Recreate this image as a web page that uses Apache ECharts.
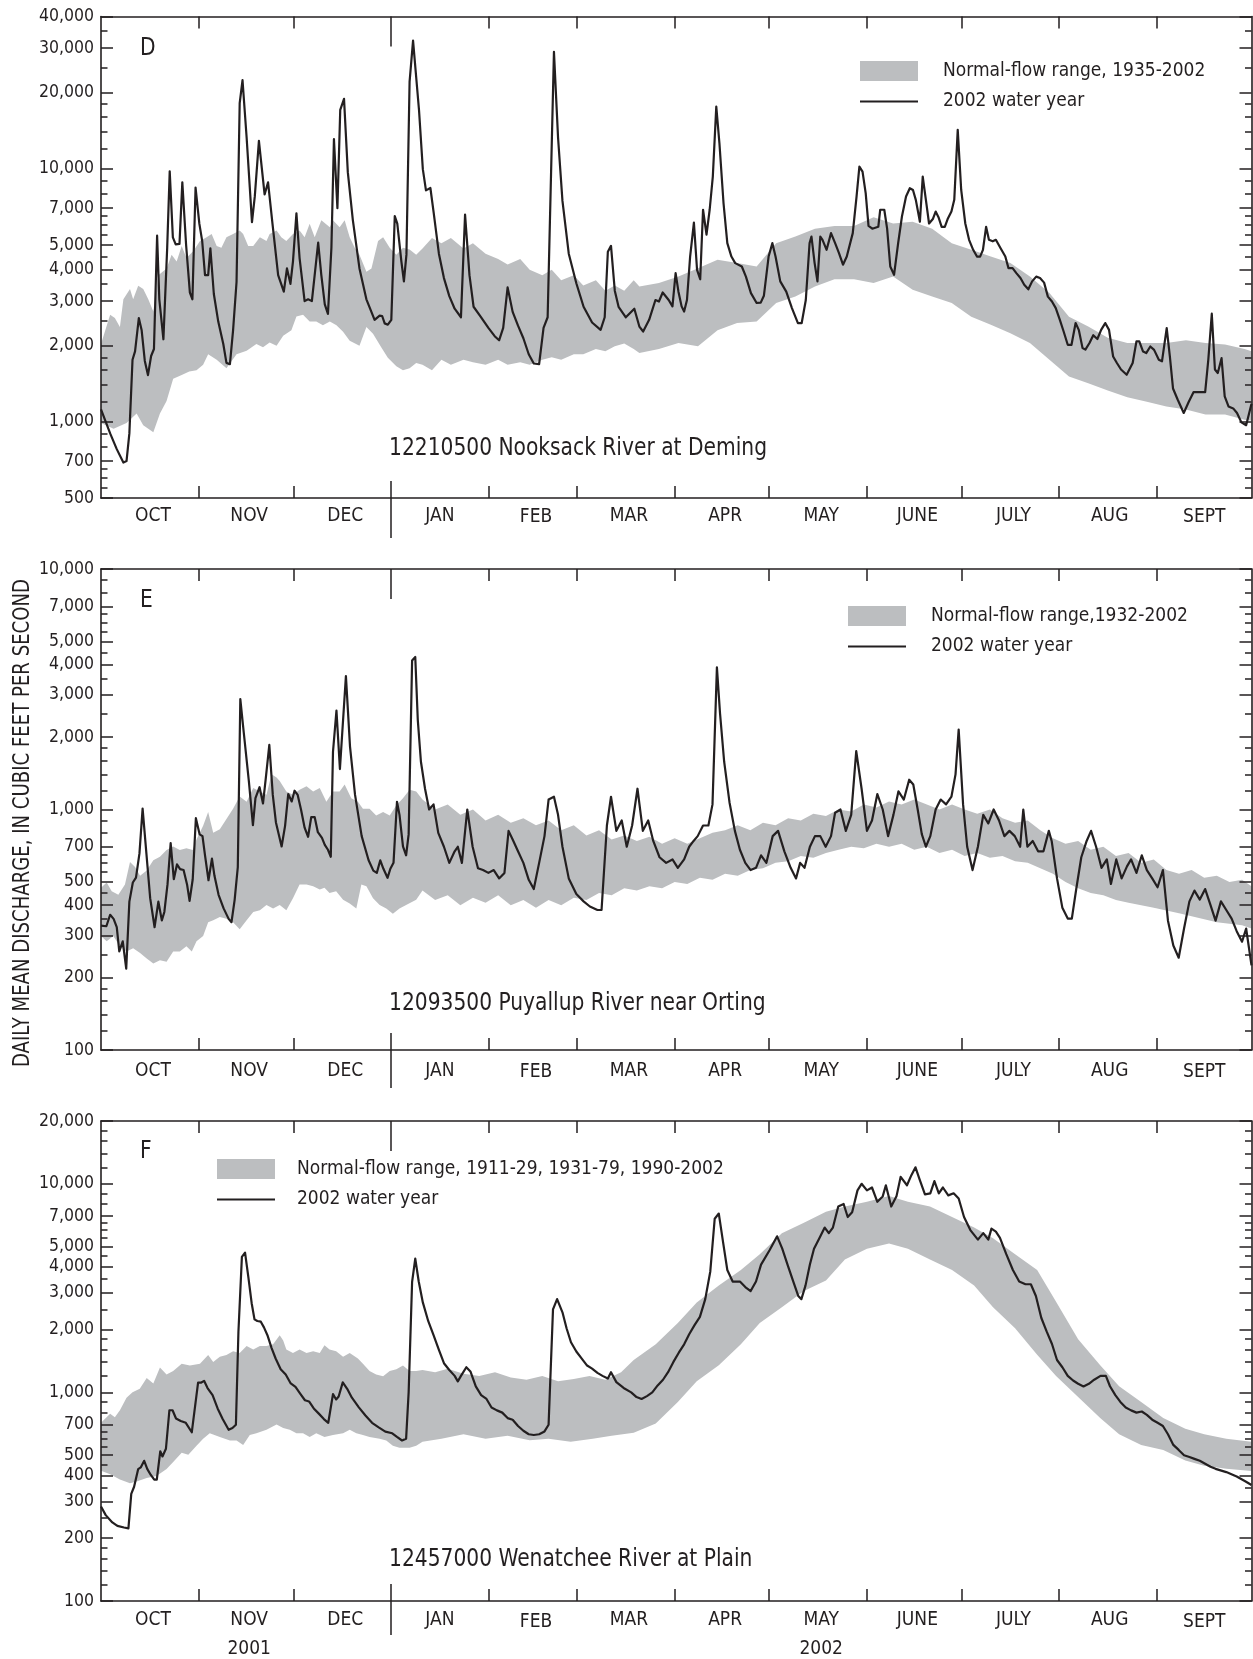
<!DOCTYPE html>
<html><head><meta charset="utf-8">
<script src="https://cdn.jsdelivr.net/npm/echarts@6/dist/echarts.min.js"></script>
<style>html,body{margin:0;padding:0;background:#fff}#c{width:1253px;height:1659px}</style>
</head><body><div id="c"></div>
<script>
// ---------- axis text ----------
const monthNames = ['OCT','NOV','DEC','JAN','FEB','MAR','APR','MAY','JUNE','JULY','AUG','SEPT'];
const monthLabelDays = [16.5,47,77.5,107.5,138,167.5,198,228.5,259,289.5,320,350];
const monthTickDays = [31,61,123,151,182,212,243,273,304,335];
const yearBreakDay = [92];
const yearLabels = {NOV:'2001', MAY:'2002'};

const dMajor = [500,700,1000,2000,3000,4000,5000,7000,10000,20000,30000,40000];
const dMinor = [550,600,650,800,900,1200,1400,1600,1800,2500,3500,4500,5500,6000,6500,8000,9000,12000,14000,16000,18000,25000,35000];
const eMajor = [100,200,300,400,500,700,1000,2000,3000,4000,5000,7000,10000];
const eMinor = [120,140,160,180,250,350,450,550,600,650,800,900,1200,1400,1600,1800,2500,3500,4500,5500,6000,6500,8000,9000];
const fMajor = [100,200,300,400,500,700,1000,2000,3000,4000,5000,7000,10000,20000];
const fMinor = [120,140,160,180,250,350,450,550,600,650,800,900,1200,1400,1600,1800,2500,3500,4500,5500,6000,6500,8000,9000,12000,14000,16000,18000];

// ---------- D: 12210500 Nooksack River at Deming  [day since Oct 1, cfs] ----------
const dFlow = [[0,1120],[2.9,900],[5,780],[7.1,690],[8.1,700],[9,900],[10,1760],[10.8,1900],[12,2570],[12.9,2300],[13.9,1740],[14.9,1530],[15.9,1820],[16.8,1940],[17.8,5440],[18.5,3050],[19.8,2120],[21,4880],[21.8,9770],[22.8,5360],[23.7,5030],[24.9,5050],[25.8,8840],[27,5000],[28.2,3240],[29,3050],[30,8430],[31.2,6070],[32.1,5190],[33,3800],[34,3800],[34.7,4850],[35.8,3200],[37.2,2490],[38.8,2030],[39.8,1710],[40.9,1690],[41.9,2300],[43,3570],[44,18200],[44.9,22400],[46.2,13300],[47.9,6160],[48.8,7800],[50.1,12900],[51.9,7920],[53,8840],[54.4,6070],[56.2,3800],[58,3270],[59,4040],[60.1,3510],[60.9,4300],[62,6670],[63,4440],[64.6,3000],[65.7,3050],[66.9,3000],[68.9,5110],[69.9,3800],[71,2910],[72,2670],[73.1,4880],[73.9,13100],[75,6990],[75.9,17100],[77.1,18900],[78.3,9700],[79.9,6270],[82,4040],[84.2,3050],[86.8,2530],[88.4,2630],[89.2,2620],[90,2450],[91,2420],[92.1,2530],[93.2,6500],[94,6070],[95.3,4300],[96.1,3590],[96.9,4580],[97.9,22100],[99,32100],[100.9,17000],[102.1,9970],[103.1,8220],[104.5,8400],[105.5,6780],[107.2,4620],[108.8,3700],[110.5,3140],[112.2,2800],[114.2,2590],[115.5,6600],[116.9,3800],[118.2,2850],[120.6,2590],[122.9,2350],[124.9,2180],[126.3,2100],[127.6,2350],[129,3400],[130.6,2720],[132.3,2400],[134,2140],[135.7,1850],[137.3,1700],[139,1690],[140.4,2350],[141.7,2590],[143.7,29000],[145,13300],[146.4,7470],[148.4,4620],[150.8,3530],[153.1,2850],[155.8,2470],[158.5,2310],[159.8,2590],[160.8,4700],[161.8,4960],[163,3300],[164.2,2850],[166.5,2590],[169.2,2800],[170.8,2380],[172,2275],[173.9,2530],[175.9,3030],[177,2990],[178.2,3245],[180.1,3030],[181.3,2860],[182.3,3870],[183.2,3270],[184.2,2860],[185,2730],[185.9,3030],[186.9,4500],[188.1,6130],[189.1,3990],[190.1,3660],[191,6890],[192.1,5490],[193.1,6890],[194.1,9320],[195.2,17620],[196.2,12620],[197.5,7310],[198.7,5085],[200,4500],[201.2,4240],[203.3,4110],[204.6,3750],[206.2,3225],[208,2950],[209.3,2960],[210.3,3150],[211.8,4500],[213,5085],[214,4500],[215.5,3590],[217.4,3270],[219.2,2815],[221.1,2457],[222.3,2457],[223.6,3030],[224.8,5085],[225.4,5400],[226.4,4240],[227.3,3590],[228.2,5400],[228.9,5240],[230.2,4785],[231.6,5570],[232.9,5085],[234.1,4650],[235.4,4180],[236.6,4500],[238.5,5570],[239.7,7770],[240.6,10200],[241.6,9750],[242.6,8010],[243.5,5950],[244.7,5800],[246.6,5900],[247.2,6890],[248.5,6890],[249.4,5800],[250.4,4110],[251.6,3810],[252.9,5085],[254.1,6480],[255.4,7770],[256.6,8380],[257.6,8250],[258.5,7540],[259.8,6180],[260.7,9320],[261.7,7540],[262.7,6080],[263.9,6330],[264.8,6780],[265.7,6440],[266.7,5900],[267.7,5900],[268.6,6330],[269.8,6780],[270.7,7540],[271.8,14250],[272.9,8250],[274.2,6080],[275.4,5240],[276.7,4785],[277.9,4500],[278.9,4500],[279.8,4785],[280.8,5900],[281.7,5240],[282.9,5170],[283.9,5240],[285.4,4850],[286.9,4500],[287.9,4050],[289.2,4050],[290.4,3870],[291.7,3700],[292.9,3480],[294.2,3340],[295.4,3590],[296.7,3750],[297.9,3700],[299.2,3550],[300.4,3125],[301.7,2990],[302.9,2815],[304.2,2530],[305.4,2275],[306.7,2016],[307.9,2016],[309.2,2457],[310.2,2310],[311.4,1956],[312.3,1930],[313.6,2050],[314.8,2200],[316.1,2125],[317.3,2310],[318.6,2457],[319.8,2310],[321.1,1813],[322.3,1708],[323.6,1610],[325.4,1535],[327.3,1708],[328.5,2080],[329.4,2080],[330.6,1895],[331.6,1870],[332.9,1985],[334.1,1925],[335.6,1760],[336.6,1735],[338.1,2347],[339.1,1813],[340.1,1355],[341.6,1223],[343.5,1084],[345.1,1200],[346.6,1310],[348.4,1310],[350.3,1310],[351.3,1760],[352.4,2675],[353.4,1610],[354.3,1560],[355.5,1785],[356.5,1260],[357.7,1150],[359.2,1130],[360.4,1084],[361.8,995],[363.3,970],[365,1180]];
const dHigh = [[0,2030],[2.9,2650],[4.4,2570],[6,2370],[7.1,3050],[9.2,3350],[10.2,3050],[11.8,3450],[13.4,3350],[15,3050],[16.6,2730],[18.2,3800],[20.8,4040],[22.4,4580],[24,4300],[25.6,4950],[27.1,4440],[29.3,4730],[31.4,5190],[33.5,5360],[35.1,5520],[36.7,4950],[38.2,4880],[39.8,5360],[41.9,5520],[44,5700],[45.1,5520],[46.7,4950],[48.3,4950],[50.4,5360],[52.5,5190],[53.5,5520],[55.7,5700],[57.2,5360],[58.8,5190],[60.9,5520],[63,5700],[64.6,5360],[66.2,6070],[67.8,5360],[69.9,6260],[72.6,5880],[73.6,6260],[75.7,5880],[77.3,6260],[78.9,5360],[80.5,4880],[82,4580],[84.2,3920],[85.8,4040],[87.9,5190],[89.5,5360],[91.6,4880],[93.7,4580],[95.8,4880],[97.9,4800],[100,4580],[102,4840],[105,5330],[108,5080],[111,5330],[115,4840],[118,5080],[122,4620],[126,4400],[129,4190],[133,4400],[136,3990],[140,3800],[143,3990],[146,3630],[150,3800],[153,3460],[157,3630],[160,3300],[163,3460],[166,3300],[169,3630],[170.8,3430],[177,3540],[183.2,3750],[189.4,4050],[195.6,4370],[201.8,4240],[208,4110],[214.2,5080],[220.3,5400],[226.5,5800],[232.7,5950],[238.9,5950],[245.1,6440],[251.3,6080],[257.5,6180],[263.7,5800],[269.9,5080],[276.1,4790],[282.3,4500],[288.5,4240],[294.7,3750],[300.9,3230],[307.1,2600],[313.2,2380],[319.4,2150],[325.6,2050],[331.8,2050],[338,2050],[344.2,2100],[350.4,2050],[356.6,2020],[362.8,1940],[365,1900]];
const dLow = [[0,990],[4,940],[8.1,990],[11.3,1080],[13.4,970],[16.6,910],[18.7,1080],[20.8,1210],[22.9,1480],[25.6,1530],[28,1580],[30.3,1600],[32.4,1680],[34,1850],[36.7,1760],[39.8,1630],[43,1850],[46.2,1910],[49.3,2030],[51.4,1970],[53.5,2060],[55.7,2000],[57.8,2190],[60.4,2300],[62,2610],[64.1,2650],[66.2,2490],[68.3,2490],[70.4,2410],[72.6,2490],[74.7,2410],[76.8,2270],[78.9,2090],[82,2000],[84.2,2370],[86.3,2230],[88.9,1970],[91,1790],[93.7,1660],[95.8,1600],[97.9,1630],[100,1710],[102,1680],[105,1600],[108,1760],[111,1680],[115,1760],[118,1720],[122,1680],[126,1760],[129,1680],[133,1720],[136,1680],[140,1760],[143,1800],[146,1760],[150,1850],[153,1850],[157,1940],[160,1900],[163,1990],[166,2040],[169,1940],[170.8,1870],[177,1940],[183.2,2050],[189.4,1990],[195.6,2300],[201.8,2460],[208,2490],[214.2,2950],[220.3,3130],[226.5,3430],[232.7,3660],[238.9,3660],[245.1,3540],[251.3,3750],[257.5,3330],[263.7,3130],[269.9,2950],[276.1,2600],[282.3,2420],[288.5,2240],[294.7,2050],[300.9,1760],[307.1,1510],[313.2,1420],[319.4,1330],[325.6,1250],[331.8,1200],[338,1150],[344.2,1120],[350.4,1070],[356.6,1070],[362.8,1020],[365,1010]];

// ---------- E: 12093500 Puyallup River near Orting ----------
const eFlow = [[0,329],[1.7,327],[2.9,365],[4,351],[5,324],[5.8,257],[6.9,283],[8,218],[9,414],[10.1,497],[11.1,521],[12.2,657],[13.2,1008],[14.4,657],[15.6,428],[17,324],[18.2,414],[19.3,346],[20.1,375],[21.1,488],[22.1,725],[23.1,513],[24.1,591],[25.1,565],[26.2,560],[27.3,488],[28.1,417],[29.1,513],[30.1,920],[31.3,788],[32.2,775],[33,645],[34.1,508],[35.2,625],[36,530],[37.3,442],[38.9,388],[40.5,351],[41.4,340],[42.4,421],[43.4,576],[44.2,2877],[45.3,2085],[46.9,1314],[48.2,861],[49,1114],[50.3,1238],[51.4,1060],[52.3,1358],[53.4,1855],[54.5,1150],[55.5,884],[57.3,702],[58.4,855],[59.4,1159],[60.5,1080],[61.4,1197],[62.4,1150],[63.5,993],[64.6,840],[65.7,770],[66.7,929],[67.8,929],[68.8,805],[70.1,762],[71,713],[72,680],[72.9,636],[73.6,1738],[74.7,2579],[75.8,1473],[77.7,3589],[79,1826],[80.6,1150],[82.7,775],[84.9,615],[86.4,557],[87.5,545],[88.6,615],[89.6,567],[90.9,520],[91.8,567],[92.8,600],[93.9,1077],[94.7,950],[95.8,702],[96.8,645],[97.6,788],[98.7,4165],[99.7,4305],[100.5,2360],[101.5,1580],[102.8,1220],[104.1,1000],[105.5,1050],[107,800],[108.8,700],[110.5,600],[112.2,670],[113.2,700],[114.5,600],[116.2,1000],[117.9,700],[119.6,570],[121.2,560],[122.9,545],[124.6,560],[126.3,517],[128,545],[129.3,815],[130.6,750],[132.3,670],[134,600],[135.7,510],[137.3,467],[139,600],[140.7,775],[142,1100],[143.7,1130],[145,950],[146.4,700],[148.4,517],[150.8,445],[153.1,415],[155.1,395],[157.5,382],[158.8,382],[160.5,858],[161.8,1130],[163.5,815],[165.2,900],[166.8,700],[168.5,858],[170.2,1220],[171.9,815],[173.6,900],[175.2,740],[177.2,633],[179.3,600],[181.3,620],[183,572],[185,620],[186.6,700],[188,740],[189.3,775],[191,858],[192.7,858],[194,1050],[195.4,3900],[196.4,2500],[197.7,1580],[199.4,1070],[201.1,815],[202.7,680],[204.4,600],[206.1,560],[207.8,572],[209.4,645],[211.1,600],[213.1,775],[214.8,815],[216.8,670],[218.8,572],[220.5,517],[221.8,600],[223.2,572],[224.9,700],[226.5,775],[228.2,775],[229.9,700],[231.6,775],[232.9,970],[234.6,1000],[236.3,815],[238,950],[239.6,1750],[241.3,1220],[243,815],[244.6,900],[246.3,1160],[248,1000],[249.7,775],[251.4,950],[253,1190],[254.7,1100],[256.4,1330],[257.7,1270],[259.1,1000],[260.4,790],[261.7,700],[263.1,775],[264.8,1000],[266.4,1100],[268.1,1050],[269.8,1130],[271.1,1400],[272.1,2150],[273.5,1050],[274.8,700],[276.5,560],[278.2,700],[279.9,950],[281.5,875],[283.2,1000],[284.9,900],[286.6,775],[288.2,815],[289.9,775],[291.6,700],[292.6,1000],[293.9,700],[295.6,740],[297.3,670],[299,670],[300.7,815],[301.6,740],[303.3,517],[305,390],[306.7,352],[308,352],[309.4,467],[311,633],[312.7,740],[314.1,815],[315.7,700],[317.4,572],[319.1,620],[320.4,490],[322.1,620],[323.8,517],[325.5,580],[326.8,620],[328.5,545],[330.2,645],[331.8,560],[333.5,517],[335.2,475],[336.9,560],[338.5,345],[340.2,272],[341.9,242],[343.6,320],[345.3,415],[346.9,460],[348.6,422],[350.3,467],[352,400],[353.6,345],[355.3,415],[357,382],[358.7,352],[360.3,312],[362,282],[363.3,320],[365,225]];
const eHigh = [[0,473],[1.8,497],[3.4,457],[5.5,442],[7.6,488],[9.2,605],[10.8,576],[12.4,530],[14.5,557],[16.6,615],[18.7,636],[20.8,679],[22.9,702],[25,679],[27.1,690],[29.1,679],[30.3,750],[32.4,855],[34,976],[35.6,801],[37.7,827],[39.8,914],[41.9,1008],[44,1132],[46.2,1077],[48.3,1230],[50.4,1189],[52.5,1151],[54.1,1402],[55.7,1357],[56.7,1313],[58.8,1189],[60.9,1151],[63,1209],[65.2,1250],[67.3,1189],[69.4,1230],[71.5,1077],[73.6,1189],[75.7,1189],[77.3,1271],[79.4,1114],[81.5,1077],[83.1,1008],[85.2,1008],[87.3,944],[89.5,976],[91.6,944],[93.7,1042],[95.8,1114],[97.9,1209],[100,1189],[102,1100],[106,1000],[110,1050],[114,950],[118,1000],[122,900],[126,950],[130,880],[134,920],[138,860],[142,900],[146,820],[150,860],[154,780],[158,820],[162,750],[166,780],[170,740],[174,770],[178,720],[182,760],[186,720],[190,760],[194,800],[198,820],[202,860],[206,820],[210,880],[214,860],[218,920],[222,900],[226,960],[230,940],[234,1000],[238,980],[242,1050],[246,1020],[250,1080],[254,1050],[258,1100],[262,1050],[266,1000],[270,1050],[274,1000],[278,960],[282,1000],[286,920],[290,880],[294,900],[298,820],[302,760],[306,720],[310,740],[314,680],[318,700],[322,640],[326,660],[330,600],[334,620],[338,560],[342,540],[346,560],[350,520],[354,530],[358,500],[362,510],[365,480]];
const eLow = [[0,298],[1.8,283],[3.9,298],[6,270],[8.1,257],[10.2,265],[12.4,253],[14.5,240],[16.6,229],[18.7,236],[20.8,233],[22.9,257],[25,257],[27.1,270],[28.8,257],[30.3,283],[32.4,298],[34,340],[35.6,346],[37.7,357],[39.8,351],[41.9,340],[44,318],[46.2,346],[48.3,375],[50.4,381],[52.5,401],[54.6,388],[56.7,401],[58.8,381],[60.9,428],[63,488],[65.2,488],[67.3,480],[69.4,465],[70.9,473],[72.5,450],[74.6,457],[76.8,421],[78.9,407],[81,388],[82.6,488],[84.2,480],[86.3,428],[88.4,401],[90.5,388],[92.6,369],[94.7,388],[96.8,401],[100,421],[102,460],[106,420],[110,440],[114,400],[118,430],[122,410],[126,440],[130,400],[134,420],[138,390],[142,420],[146,400],[150,430],[154,420],[158,450],[162,440],[166,470],[170,460],[174,480],[178,470],[182,500],[186,490],[190,520],[194,510],[198,540],[202,530],[206,560],[210,570],[214,600],[218,610],[222,640],[226,630],[230,660],[234,680],[238,700],[242,690],[246,720],[250,700],[254,720],[258,680],[262,700],[266,660],[270,680],[274,640],[278,660],[282,630],[286,640],[290,610],[294,600],[298,570],[302,540],[306,500],[310,470],[314,450],[318,440],[322,420],[326,410],[330,400],[334,390],[338,380],[342,370],[346,360],[350,350],[354,340],[358,335],[362,330],[365,320]];

// ---------- F: 12457000 Wenatchee River at Plain ----------
const fFlow = [[0,284],[1.5,258],[3.6,238],[5.2,229],[7.3,225],[8.7,223],[9.6,326],[10.5,353],[11.8,429],[12.6,437],[13.7,470],[14.7,429],[15.8,402],[16.9,382],[17.7,382],[18.8,522],[19.5,493],[20.6,537],[21.7,821],[22.7,821],[23.8,750],[25.3,730],[26.9,715],[28.8,644],[30.8,1113],[31.7,1113],[32.7,1136],[33.8,1049],[35.4,970],[37,838],[38.6,745],[40.5,662],[41.7,675],[42.8,700],[43.6,1955],[44.7,4463],[45.7,4676],[46.8,3524],[47.8,2677],[48.7,2240],[49.6,2200],[50.7,2183],[51.7,2050],[52.8,1880],[54.1,1636],[55.4,1454],[57,1291],[58.6,1218],[60.2,1104],[61.7,1062],[63.3,981],[64.7,917],[66,905],[67.5,838],[69.1,791],[70.7,745],[72.1,715],[73.6,981],[74.6,925],[75.4,955],[76.7,1117],[78.1,1041],[79.6,943],[81.8,848],[83.9,775],[86,715],[88.1,680],[90.2,649],[92.4,637],[93.9,612],[95.5,588],[96.8,600],[97.6,1000],[98.7,3390],[99.7,4377],[100.8,3400],[102.1,2700],[103.8,2200],[105.5,1880],[107.2,1600],[108.8,1380],[110.5,1280],[112.2,1200],[113.2,1130],[114.2,1200],[115.9,1320],[117.2,1260],[118.9,1068],[120.6,970],[122.3,930],[123.9,846],[125.6,820],[127.3,800],[129,753],[130.6,740],[132.3,690],[134,655],[135.7,630],[137.3,625],[139,630],[140.7,650],[142,700],[143.4,2500],[144.7,2800],[146.4,2420],[147.7,2030],[149.1,1740],[150.8,1570],[152.4,1460],[154.1,1350],[155.8,1300],[157.5,1240],[159.1,1200],[160.8,1165],[161.8,1250],[163.5,1120],[165.8,1050],[168.2,1000],[169.9,950],[171.5,930],[173.2,960],[174.9,1000],[176.6,1080],[178.3,1150],[179.9,1250],[181.6,1400],[183.3,1550],[185,1700],[186.6,1900],[188.3,2100],[190,2300],[191.7,2800],[193.3,3800],[194.7,6800],[196,7200],[197.4,5200],[198.7,3860],[200.4,3400],[202.7,3400],[204.4,3200],[206.1,3060],[207.8,3400],[209.4,4100],[212.1,4800],[214.5,5600],[216.1,4900],[217.8,4100],[219.5,3440],[221.2,2900],[222.2,2800],[223.5,3250],[224.9,4100],[226.2,4880],[227.9,5485],[229.6,6170],[230.9,5800],[232.2,6170],[233.9,7780],[235.6,8000],[236.9,6930],[238.3,7300],[240,9300],[241.3,10000],[243,9300],[244.6,9600],[246.3,8200],[248,8700],[249,9840],[250.7,7780],[252.4,8750],[253.7,10800],[255.7,9840],[257.1,11000],[258.4,12000],[259.7,10500],[261.4,8900],[263.1,9000],[264.4,10300],[265.8,9000],[267.1,9600],[268.8,8800],[270.5,9000],[272.1,8500],[273.8,6930],[275.8,6000],[278.2,5400],[279.9,5800],[281.5,5400],[282.5,6100],[283.9,5900],[285.2,5500],[287.2,4600],[289.3,3860],[291.3,3400],[293.3,3300],[295,3300],[296.6,2900],[298.3,2280],[300,1960],[301.7,1706],[303.3,1430],[305,1320],[306.7,1200],[308.4,1140],[310,1100],[311.7,1068],[313.4,1100],[315.1,1150],[317.1,1200],[318.8,1200],[320.1,1070],[321.8,970],[323.4,900],[325.1,846],[326.8,820],[328.5,800],[330.2,810],[331.8,780],[333.5,740],[335.2,715],[336.9,690],[338.5,630],[340.2,560],[341.9,530],[343.6,500],[345.3,490],[346.9,480],[348.6,470],[350.3,455],[352,440],[353.6,430],[357,415],[360.3,395],[363,375],[365,360]];
const fHigh = [[0,716],[2.9,791],[4.4,760],[6,821],[8.1,943],[10,1001],[12.3,1041],[14.5,1171],[16.6,1104],[18.7,1318],[20.8,1218],[22.9,1267],[25.6,1371],[28.2,1344],[31.4,1371],[34,1513],[35.6,1399],[37.7,1483],[39.8,1513],[41.9,1575],[44,1543],[46.2,1669],[48.3,1604],[50.4,1669],[52.5,1669],[54.6,1702],[56.7,1878],[57.8,1771],[58.8,1604],[60.9,1543],[63,1604],[65.2,1543],[67.3,1575],[69.4,1543],[70.9,1682],[72.5,1604],[74.6,1575],[76.8,1483],[78.9,1543],[81.5,1453],[83.1,1371],[85.2,1267],[87.3,1218],[89.5,1194],[91.6,1267],[93.7,1291],[95.8,1344],[97.9,1267],[100,1267],[102,1280],[106,1250],[110,1300],[115,1230],[120,1200],[125,1250],[130,1180],[135,1150],[140,1200],[145,1130],[150,1160],[155,1200],[160,1150],[165,1250],[169,1430],[176,1700],[183,2150],[189,2700],[196,3250],[203,3860],[209,4600],[216,5800],[223,6500],[230,7350],[236,7780],[243,8200],[250,8750],[256,8200],[263,7780],[270,6930],[277,6170],[283,5485],[290,4600],[297,3860],[303,2720],[310,1800],[317,1350],[323,1070],[330,900],[337,753],[344,670],[350,630],[357,600],[365,580]];
const fLow = [[0,421],[2.9,405],[6,382],[9.2,367],[11.3,374],[14.5,389],[17.6,397],[20.8,429],[22.9,464],[25.6,513],[27.7,503],[30.3,555],[32.4,600],[34.5,637],[37.7,612],[40.9,588],[43,588],[45.1,559],[47.2,624],[49.3,637],[52.5,662],[55.7,702],[57.8,675],[59.9,662],[62,637],[64.1,637],[66.2,612],[68.3,637],[70.9,612],[73.6,624],[76.8,637],[78.9,662],[81,637],[83.1,624],[85.2,612],[88.4,600],[90.5,588],[92.6,555],[94.7,543],[97.9,543],[100,555],[102,580],[108,600],[115,630],[122,600],[129,620],[136,590],[142,600],[149,580],[156,600],[162,620],[169,640],[176,710],[183,900],[189,1130],[196,1350],[203,1700],[209,2150],[216,2560],[223,3060],[230,3440],[236,4340],[243,4880],[250,5180],[256,4880],[263,4340],[270,3860],[277,3250],[283,2560],[290,2030],[297,1517],[303,1200],[310,950],[317,753],[323,630],[330,560],[337,530],[344,472],[350,445],[357,430],[365,420]];

// ---------- chart ----------
const FONT = "'Liberation Sans Narrow','DejaVu Sans Condensed','Roboto',sans-serif";
const INK = '#231f20';
const BAND = '#bcbec0';
const LINE_NAME = '2002 water year';

const panels = [
  {top:16.5, height:481.5, ymin:500, ymax:40000, major:dMajor, minor:dMinor, flow:dFlow, high:dHigh, low:dLow,
   letter:'D', letterY:48, station:'12210500 Nooksack River at Deming', stationY:448,
   bandName:'Normal-flow range, 1935-2002', legLeft:860, legTop:61, legPad:20, labelMargin:5, janBelow:40, years:false},
  {top:569, height:481, ymin:100, ymax:10000, major:eMajor, minor:eMinor, flow:eFlow, high:eHigh, low:eLow,
   letter:'E', letterY:600, station:'12093500 Puyallup River near Orting', stationY:1003,
   bandName:'Normal-flow range,1932-2002', legLeft:848, legTop:606, legPad:20, labelMargin:8, janBelow:38, years:false},
  {top:1121, height:480, ymin:100, ymax:20000, major:fMajor, minor:fMinor, flow:fFlow, high:fHigh, low:fLow,
   letter:'F', letterY:1151, station:'12457000 Wenatchee River at Plain', stationY:1559,
   bandName:'Normal-flow range, 1911-29, 1931-79, 1990-2002', legLeft:217, legTop:1159, legPad:17, labelMargin:5, janBelow:34, years:true}
];

function nearestIdx(arr, v){ let b=0; for(let i=1;i<arr.length;i++){ if(Math.abs(arr[i]-v)<Math.abs(arr[b]-v)) b=i; } return b; }

const grid=[], xAxis=[], yAxis=[], series=[], legend=[], graphic=[];
const lineSt = {color:INK, width:1.6};
const tickSt = {color:INK, width:1.5};

panels.forEach((p,g)=>{
  grid.push({left:101, right:1.5, top:p.top, height:p.height, containLabel:false, outerBoundsMode:'none'});
  const xb = {gridIndex:g, type:'value', min:0, max:365, z:10, splitLine:{show:false}};
  const lh = p.years ? 29 : 26;
  xAxis.push(Object.assign({}, xb, {position:'bottom',
    axisLine:{show:true, onZero:false, lineStyle:lineSt},
    axisTick:{show:true, inside:true, length:12, customValues:monthTickDays, lineStyle:tickSt},
    axisLabel:{show:true, customValues:monthLabelDays, margin:p.labelMargin,
      formatter:(v)=>{ const n = monthNames[nearestIdx(monthLabelDays, v)];
        const key = (n==='FEB'||n==='SEPT') ? 'lo' : 'm';
        let s = '{'+key+'|'+n+'}';
        if (p.years && yearLabels[n]) s += '\n{m|'+yearLabels[n]+'}';
        return s; },
      rich:{ m:{fontFamily:FONT, fontSize:19, color:INK, lineHeight:lh},
             lo:{fontFamily:FONT, fontSize:19, color:INK, lineHeight:lh, padding:[3,0,0,0]} } }}));
  xAxis.push(Object.assign({}, xb, {position:'top',
    axisLine:{show:true, onZero:false, lineStyle:lineSt},
    axisTick:{show:true, inside:true, length:12, customValues:monthTickDays, lineStyle:tickSt},
    axisLabel:{show:false}}));
  xAxis.push(Object.assign({}, xb, {position:'bottom', axisLine:{show:false, onZero:false},
    axisTick:{show:true, inside:false, length:p.janBelow, customValues:yearBreakDay, lineStyle:tickSt}, axisLabel:{show:false}}));
  xAxis.push(Object.assign({}, xb, {position:'bottom', axisLine:{show:false, onZero:false},
    axisTick:{show:true, inside:true, length:17, customValues:yearBreakDay, lineStyle:tickSt}, axisLabel:{show:false}}));
  xAxis.push(Object.assign({}, xb, {position:'top', axisLine:{show:false, onZero:false},
    axisTick:{show:true, inside:true, length:30, customValues:yearBreakDay, lineStyle:tickSt}, axisLabel:{show:false}}));

  // data axis: real logarithmic scale
  yAxis.push({gridIndex:g, type:'log', logBase:10, min:p.ymin, max:p.ymax, show:false,
    axisLine:{onZero:false}, splitLine:{show:false}});
  // tick/label axes laid out in the same log space
  const lmin = Math.log10(p.ymin), lmax = Math.log10(p.ymax);
  const deco = (pos, vals, len, showLine, showLabel) => ({gridIndex:g, type:'value', min:lmin, max:lmax, position:pos, z:10,
    splitLine:{show:false},
    axisLine:{show:showLine, onZero:false, lineStyle:lineSt},
    axisTick:{show:true, inside:true, length:len, customValues:vals.map(v=>Math.log10(v)), lineStyle:tickSt},
    axisLabel: showLabel ? {show:true, customValues:vals.map(v=>Math.log10(v)), margin:7,
      fontFamily:FONT, fontSize:17.5, color:INK,
      formatter:(v)=>Math.round(Math.pow(10, v)).toLocaleString('en-US')} : {show:false}});
  yAxis.push(deco('left', p.major, 12, true, true));
  yAxis.push(deco('left', p.minor, 6.5, false, false));
  yAxis.push(deco('right', p.major, 12, true, false));
  yAxis.push(deco('right', p.minor, 6.5, false, false));

  const xi = g*5, yi = g*5;
  series.push({type:'custom', name:p.bandName, xAxisIndex:xi, yAxisIndex:yi, z:1, silent:true,
    itemStyle:{color:BAND}, data:[[0, p.ymin]],
    renderItem:(params, api)=>{
      const pts = p.high.map(d=>api.coord(d)).concat(p.low.slice().reverse().map(d=>api.coord(d)));
      return {type:'polygon', shape:{points:pts}, style:{fill:BAND}};
    }});
  series.push({type:'line', name:LINE_NAME, xAxisIndex:xi, yAxisIndex:yi, z:3, silent:true,
    data:p.flow, symbol:'none', showSymbol:false,
    lineStyle:{color:INK, width:2.2, join:'round'}, itemStyle:{color:INK}});

  legend.push({show:true, orient:'vertical', left:p.legLeft, top:p.legTop, padding:0,
    itemWidth:58, itemHeight:20, itemGap:11, selectedMode:false,
    textStyle:{fontFamily:FONT, fontSize:19, color:INK, padding:[0,0,0,p.legPad]},
    data:[{name:p.bandName, icon:'rect', itemStyle:{color:BAND, borderWidth:0}},
          {name:LINE_NAME, icon:'path://M0,0H58V2.2H0Z', itemStyle:{color:INK, borderWidth:0}}]});

  graphic.push({type:'text', x:140, y:p.letterY, scaleX:0.9, silent:true,
    style:{text:p.letter, font:'25px '+FONT, fill:INK, align:'left', verticalAlign:'middle'}});
  graphic.push({type:'text', x:389, y:p.stationY, scaleX:0.9, silent:true,
    style:{text:p.station, font:'25px '+FONT, fill:INK, align:'left', verticalAlign:'middle'}});
});

graphic.push({type:'text', x:23, y:823, rotation:Math.PI/2, scaleX:0.875, silent:true,
  style:{text:'DAILY MEAN DISCHARGE, IN CUBIC FEET PER SECOND', font:'23px '+FONT, fill:INK, align:'center', verticalAlign:'middle'}});

const chart = echarts.init(document.getElementById('c'), null, {renderer:'canvas', width:1253, height:1659});
chart.setOption({animation:false, backgroundColor:'#ffffff', grid, xAxis, yAxis, series, legend, graphic});
</script></body></html>
